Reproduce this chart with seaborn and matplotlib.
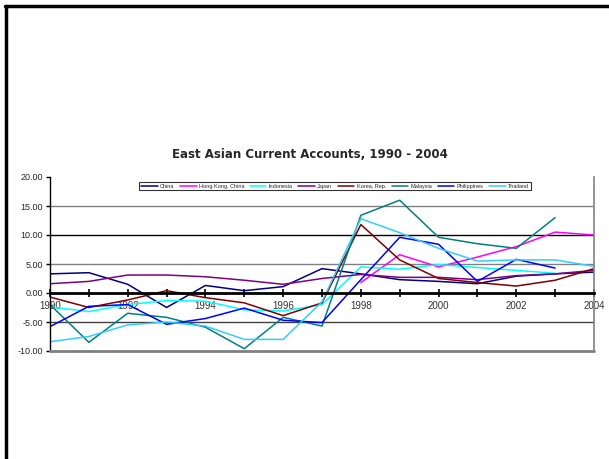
import matplotlib
matplotlib.use("Agg")
import matplotlib.pyplot as plt
import numpy as np
import pandas as pd
import seaborn as sns
from matplotlib.lines import Line2D

years = list(range(1990, 2005))
nan = np.nan
china = [3.3, 3.5, 1.5, -2.5, 1.3, 0.4, 1.1, 4.2, 3.3, 2.3, 2.0, 1.6, 2.9, 3.3, 3.6]
hong_kong = [nan, nan, nan, nan, nan, nan, nan, nan, 1.8, 6.6, 4.5, 6.2, 8.0, 10.5, 10.0]
indonesia = [-2.4, -3.2, -2.0, -1.3, -1.4, -2.9, -3.1, -2.0, 4.5, 4.1, 4.9, 4.4, 3.9, 3.4, nan]
japan = [1.6, 2.0, 3.1, 3.1, 2.8, 2.2, 1.5, 2.5, 3.2, 2.7, 2.7, 2.3, 3.0, 3.3, 3.9]
korea = [-0.7, -2.5, -1.2, 0.4, -0.8, -1.7, -3.9, -1.7, 11.8, 5.7, 2.5, 1.8, 1.2, 2.2, 4.2]
malaysia = [-2.0, -8.5, -3.5, -4.2, -5.9, -9.6, -4.2, -5.7, 13.4, 16.0, 9.6, 8.5, 7.7, 13.0, nan]
philippines = [-5.8, -2.3, -2.0, -5.4, -4.4, -2.6, -4.7, -5.1, 2.3, 9.6, 8.4, 2.0, 5.8, 4.3, nan]
thailand = [-8.4, -7.5, -5.5, -5.0, -5.7, -8.0, -8.0, -1.5, 12.8, 10.4, 7.7, 5.5, 5.7, 5.7, 4.6]

series_names = ["China", "Hong Kong, China", "Indonesia", "Japan", "Korea, Rep.",
                "Malaysia", "Philippines", "Thailand"]
series_values = [china, hong_kong, indonesia, japan, korea, malaysia, philippines, thailand]
colors = ["#000080", "#FF00FF", "#00FFFF", "#800080", "#800000", "#008080", "#0000FF", "#33CCFF"]

yticks = [-10, -5, 0, 5, 10, 15, 20]
ytick_labels = ["-10.00", "-5.00", "0.00", "5.00", "10.00", "15.00", "20.00"]
title = "East Asian Current Accounts, 1990 - 2004"

rows = []
for name, vals in zip(series_names, series_values):
    for y, v in zip(years, vals):
        rows.append({"Year": y, "Value": v, "Country": name})
df = pd.DataFrame(rows).dropna()

sns.set_style("white")
plt.rcParams['font.family'] = ['Liberation Sans', 'DejaVu Sans']

fig = plt.figure(figsize=(6.09, 4.59), dpi=100)
ax = fig.add_axes([50 / 609, 1 - 351 / 459, 544 / 609, 174 / 459])

# gridlines
for yv, c in [(15, "#808080"), (10, "#000000"), (5, "#808080"), (-5, "#404040")]:
    ax.axhline(yv, color=c, lw=1.0, zorder=0.5)

sns.lineplot(data=df, x="Year", y="Value", hue="Country", hue_order=series_names,
             palette=dict(zip(series_names, colors)), ax=ax, lw=1.1, legend=False,
             sort=True)

ax.set_xlim(1990, 2004)
ax.set_ylim(-10, 20)
ax.set_xlabel("")
ax.set_ylabel("")

ax.spines['top'].set_visible(False)
ax.spines['bottom'].set_position(('data', 0))
ax.spines['bottom'].set_linewidth(2.0)
ax.spines['bottom'].set_color('black')
ax.spines['left'].set_color('black')
ax.spines['left'].set_linewidth(1.0)
ax.spines['right'].set_color('#808080')
ax.spines['right'].set_linewidth(1.2)
ax.axhline(-10, color="#808080", lw=2.0, zorder=3, clip_on=False)

ax.set_yticks(yticks)
ax.set_yticklabels(ytick_labels)
ax.tick_params(axis='y', direction='out', length=3, width=1, color='black',
               labelsize=6.5, pad=2, left=True)
major_x = [y for y in years if y % 2 == 0]
minor_x = [y for y in years if y % 2 == 1]
ax.set_xticks(major_x)
ax.set_xticklabels([str(y) for y in major_x])
ax.set_xticks(minor_x, minor=True)
ax.tick_params(axis='x', which='both', direction='inout', length=6, width=1.2,
               color='black', labelsize=7, pad=3, bottom=True, labelcolor='#333333')

handles = [Line2D([0], [0], color=c, lw=1.1) for c in colors]
leg = ax.legend(handles, series_names, ncol=8, loc='center',
                bbox_to_anchor=(0.524, 0.948), fontsize=4, handlelength=3,
                columnspacing=1.0, handletextpad=0.4, frameon=True, fancybox=False,
                borderpad=0.3, edgecolor='black')
leg.get_frame().set_linewidth(0.8)

fig.text(0.509, 1 - 155 / 459, title, ha='center', va='center', fontsize=8.5,
         fontweight='bold', family=['DejaVu Sans'])

# slide frame
fig.add_artist(Line2D([5 / 609, 1.0], [1 - 6 / 459, 1 - 6 / 459], color='black', lw=2.5,
                      transform=fig.transFigure))
fig.add_artist(Line2D([6 / 609, 6 / 609], [0, 1 - 6 / 459], color='black', lw=2.5,
                      transform=fig.transFigure))

fig.savefig("out.png", dpi=100)
